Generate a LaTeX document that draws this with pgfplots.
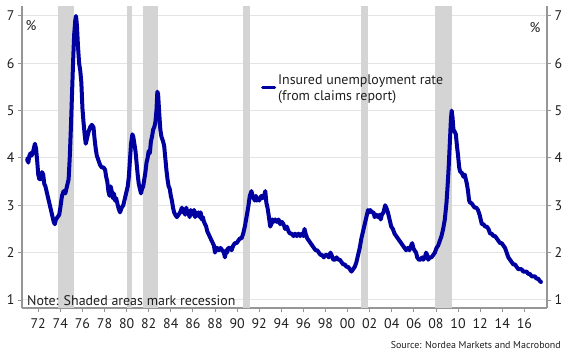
\documentclass[border=0pt]{standalone}
\usepackage{fontspec}
\setmainfont{PT Sans}
\usepackage{pgfplots}
\usepackage{pgfplotstable}
\pgfplotsset{compat=1.18}
\definecolor{lineblue}{RGB}{0,0,160}
\definecolor{recgray}{RGB}{212,212,212}
\definecolor{gridgray}{RGB}{228,228,228}
\definecolor{axisgray}{RGB}{150,150,150}
\definecolor{txt}{RGB}{30,30,30}

\pgfplotstableread{
year val
1971.00 3.95
1971.05 4.00
1971.10 3.90
1971.20 4.05
1971.30 4.10
1971.40 4.05
1971.50 4.10
1971.60 4.20
1971.70 4.30
1971.80 4.20
1971.90 3.95
1972.00 3.65
1972.10 3.55
1972.25 3.55
1972.35 3.70
1972.45 3.65
1972.55 3.45
1972.65 3.40
1972.80 3.25
1972.95 3.10
1973.10 2.95
1973.25 2.80
1973.40 2.65
1973.50 2.60
1973.60 2.70
1973.75 2.75
1973.90 2.80
1974.00 2.95
1974.15 3.20
1974.30 3.30
1974.45 3.25
1974.60 3.40
1974.75 3.55
1974.85 4.00
1974.95 4.60
1975.05 5.30
1975.15 6.00
1975.25 6.60
1975.35 6.90
1975.42 7.00
1975.50 6.80
1975.60 6.35
1975.70 6.00
1975.80 5.85
1975.90 5.60
1976.00 5.05
1976.10 4.75
1976.20 4.50
1976.30 4.30
1976.40 4.40
1976.55 4.55
1976.70 4.65
1976.85 4.70
1977.00 4.65
1977.10 4.40
1977.20 4.20
1977.30 4.05
1977.45 3.95
1977.60 3.85
1977.75 3.80
1977.90 3.80
1978.05 3.75
1978.15 3.60
1978.25 3.50
1978.35 3.30
1978.45 3.20
1978.55 3.40
1978.65 3.30
1978.75 3.15
1978.85 3.25
1978.95 3.10
1979.05 3.15
1979.15 3.05
1979.25 2.95
1979.40 2.85
1979.55 2.95
1979.70 3.00
1979.85 3.15
1980.00 3.30
1980.10 3.40
1980.20 3.60
1980.30 3.95
1980.40 4.30
1980.52 4.50
1980.60 4.45
1980.70 4.30
1980.80 4.15
1980.90 3.90
1981.00 3.65
1981.10 3.45
1981.20 3.35
1981.30 3.25
1981.40 3.35
1981.50 3.40
1981.60 3.55
1981.70 3.70
1981.80 3.90
1981.90 4.00
1982.00 4.15
1982.10 4.10
1982.20 4.35
1982.30 4.45
1982.40 4.60
1982.50 4.65
1982.60 4.75
1982.70 5.00
1982.78 5.40
1982.85 5.35
1982.95 4.95
1983.05 4.60
1983.15 4.45
1983.30 4.35
1983.40 4.25
1983.50 4.00
1983.60 3.75
1983.70 3.55
1983.80 3.40
1983.90 3.35
1984.00 3.20
1984.10 3.10
1984.20 2.95
1984.30 2.85
1984.40 2.80
1984.55 2.75
1984.70 2.80
1984.85 2.85
1985.00 2.95
1985.10 2.85
1985.20 2.90
1985.30 2.80
1985.40 2.95
1985.50 2.85
1985.60 2.85
1985.70 2.75
1985.80 2.90
1985.90 2.80
1986.00 2.85
1986.10 2.90
1986.20 2.75
1986.30 2.85
1986.40 2.80
1986.50 2.85
1986.60 2.75
1986.70 2.85
1986.80 2.70
1986.90 2.75
1987.00 2.65
1987.10 2.60
1987.20 2.55
1987.30 2.45
1987.40 2.40
1987.50 2.35
1987.60 2.30
1987.70 2.25
1987.80 2.20
1987.90 2.15
1988.00 2.00
1988.10 2.10
1988.20 2.10
1988.35 2.05
1988.50 2.10
1988.65 2.05
1988.80 2.00
1988.90 1.90
1989.00 2.05
1989.10 2.00
1989.20 2.10
1989.35 2.10
1989.50 2.05
1989.65 2.15
1989.80 2.20
1989.95 2.20
1990.10 2.25
1990.25 2.30
1990.40 2.30
1990.55 2.40
1990.70 2.55
1990.85 2.75
1991.00 2.95
1991.15 3.20
1991.30 3.30
1991.40 3.20
1991.50 3.15
1991.60 3.10
1991.70 3.20
1991.80 3.10
1991.90 3.15
1992.00 3.10
1992.10 3.15
1992.20 3.20
1992.30 3.15
1992.45 3.20
1992.55 3.30
1992.65 3.05
1992.75 2.95
1992.85 2.80
1993.00 2.55
1993.10 2.60
1993.20 2.70
1993.30 2.65
1993.45 2.70
1993.60 2.65
1993.75 2.70
1993.90 2.60
1994.05 2.65
1994.20 2.60
1994.35 2.50
1994.50 2.55
1994.65 2.45
1994.80 2.40
1994.95 2.40
1995.10 2.35
1995.25 2.40
1995.40 2.35
1995.55 2.40
1995.70 2.35
1995.85 2.40
1996.00 2.35
1996.10 2.50
1996.20 2.40
1996.35 2.30
1996.50 2.25
1996.65 2.20
1996.80 2.15
1996.95 2.10
1997.10 2.05
1997.25 2.05
1997.40 2.00
1997.55 1.95
1997.70 1.95
1997.85 1.90
1998.00 1.95
1998.15 1.95
1998.30 1.90
1998.45 2.00
1998.55 1.95
1998.70 1.85
1998.85 1.85
1999.00 1.90
1999.15 1.85
1999.30 1.85
1999.45 1.80
1999.60 1.75
1999.75 1.75
1999.90 1.70
2000.05 1.70
2000.20 1.65
2000.35 1.60
2000.50 1.65
2000.65 1.70
2000.80 1.80
2000.95 1.95
2001.10 2.10
2001.25 2.30
2001.40 2.45
2001.55 2.60
2001.70 2.75
2001.85 2.90
2001.95 2.85
2002.05 2.90
2002.20 2.85
2002.35 2.85
2002.45 2.75
2002.60 2.80
2002.75 2.75
2002.90 2.80
2003.00 2.70
2003.10 2.80
2003.25 2.85
2003.40 3.00
2003.50 2.95
2003.65 2.85
2003.80 2.70
2003.95 2.55
2004.10 2.50
2004.25 2.40
2004.40 2.35
2004.55 2.30
2004.70 2.25
2004.85 2.20
2005.00 2.15
2005.15 2.10
2005.30 2.05
2005.45 2.10
2005.60 2.05
2005.75 2.15
2005.85 2.20
2005.95 2.10
2006.05 2.05
2006.20 2.00
2006.30 1.90
2006.45 1.85
2006.60 1.85
2006.75 1.90
2006.85 1.85
2007.00 1.90
2007.10 2.00
2007.20 1.95
2007.30 1.85
2007.45 1.90
2007.60 1.90
2007.75 1.95
2007.90 2.00
2008.05 2.10
2008.20 2.15
2008.35 2.25
2008.50 2.35
2008.65 2.50
2008.80 2.70
2008.95 3.05
2009.05 3.40
2009.15 3.80
2009.25 4.30
2009.35 4.80
2009.42 5.00
2009.50 4.85
2009.58 4.60
2009.70 4.55
2009.80 4.50
2009.90 4.25
2010.00 4.05
2010.10 3.80
2010.20 3.70
2010.30 3.70
2010.40 3.65
2010.50 3.60
2010.60 3.65
2010.70 3.55
2010.80 3.45
2010.90 3.30
2011.00 3.10
2011.10 3.05
2011.20 3.05
2011.35 3.00
2011.50 2.95
2011.65 2.95
2011.80 2.90
2011.95 2.80
2012.05 2.70
2012.15 2.60
2012.30 2.60
2012.45 2.55
2012.60 2.55
2012.75 2.50
2012.90 2.40
2013.05 2.40
2013.20 2.35
2013.35 2.35
2013.50 2.30
2013.65 2.25
2013.80 2.20
2013.95 2.20
2014.10 2.15
2014.25 2.10
2014.40 2.00
2014.55 1.90
2014.70 1.85
2014.85 1.80
2015.00 1.75
2015.15 1.75
2015.30 1.70
2015.45 1.65
2015.60 1.65
2015.75 1.65
2015.90 1.60
2016.05 1.60
2016.20 1.60
2016.35 1.55
2016.50 1.55
2016.65 1.50
2016.80 1.50
2016.95 1.50
2017.10 1.45
2017.25 1.45
2017.40 1.40
2017.50 1.38
}\datatable

\begin{document}
\begin{tikzpicture}
\path[use as bounding box] (-22bp,-52bp) rectangle (548bp,308bp);
\begin{axis}[
  name=main,
  at={(0,0)}, anchor=south west,
  scale only axis, width=525bp, height=302bp,
  xmin=1970.53, xmax=2018.05, ymin=0.83, ymax=7.21,
  axis x line*=bottom, axis y line*=left,
  axis line style={axisgray, line width=1.2bp},
  xtick={1972,1974,...,2016},
  xticklabels={72,74,76,78,80,82,84,86,88,90,92,94,96,98,00,02,04,06,08,10,12,14,16},
  ytick={1,...,7},
  ymajorgrids, major grid style={gridgray, line width=1bp},
  tick style={axisgray, line width=0.9bp},
  tick align=outside, major tick length=4bp,
  tick label style={font=\fontsize{14}{16}\selectfont, text=txt},
  /pgf/number format/assume math mode=true,
  xticklabel style={yshift=-3bp},
  legend style={draw=none, fill=none, at={(rel axis cs:0.4495,0.7285)}, anchor=west,
    font=\fontsize{14}{16}\selectfont, text=txt, cells={align=left}},
  legend cell align=left,
  legend image code/.code={\draw[lineblue, line width=3bp] (0bp,0bp) -- (12bp,0bp);},
]
\addplot[draw=none, fill=recgray, forget plot] coordinates {(1973.83,0.83) (1975.21,0.83) (1975.21,7.21) (1973.83,7.21)} -- cycle;
\addplot[draw=none, fill=recgray, forget plot] coordinates {(1980.0,0.83) (1980.5,0.83) (1980.5,7.21) (1980.0,7.21)} -- cycle;
\addplot[draw=none, fill=recgray, forget plot] coordinates {(1981.5,0.83) (1982.88,0.83) (1982.88,7.21) (1981.5,7.21)} -- cycle;
\addplot[draw=none, fill=recgray, forget plot] coordinates {(1990.5,0.83) (1991.2,0.83) (1991.2,7.21) (1990.5,7.21)} -- cycle;
\addplot[draw=none, fill=recgray, forget plot] coordinates {(2001.17,0.83) (2001.88,0.83) (2001.88,7.21) (2001.17,7.21)} -- cycle;
\addplot[draw=none, fill=recgray, forget plot] coordinates {(2007.92,0.83) (2009.46,0.83) (2009.46,7.21) (2007.92,7.21)} -- cycle;
\addplot[lineblue, line width=4bp, line join=round, line cap=round] table[x=year, y=val] {\datatable};
\addlegendentry{Insured unemployment rate\\(from claims report)}
\node[anchor=center, font=\fontsize{14}{16}\selectfont, text=txt] at (rel axis cs:0.0171,0.935) {\%};
\node[anchor=center, font=\fontsize{14}{16}\selectfont, text=txt] at (rel axis cs:0.977,0.930) {\%};
\node[anchor=base west, inner sep=0pt, font=\fontsize{14}{16}\selectfont, text=txt] at (rel axis cs:0.0095,0.0075) {Note: Shaded areas mark recession};
\end{axis}
\begin{axis}[
  at={(0,0)}, anchor=south west,
  scale only axis, width=525bp, height=302bp,
  xmin=1970.53, xmax=2018.05, ymin=0.83, ymax=7.21,
  axis y line*=right, hide x axis,
  axis line style={axisgray, line width=1.2bp},
  ytick={1,...,7},
  tick style={axisgray, line width=0.9bp},
  tick align=outside, major tick length=4bp,
  tick label style={font=\fontsize{14}{16}\selectfont, text=txt},
  /pgf/number format/assume math mode=true,
]
\end{axis}
\node[anchor=east, inner sep=0pt, font=\fontsize{10}{12}\selectfont, text=txt] at ([xshift=14bp, yshift=-37bp]main.south east) {Source: Nordea Markets and Macrobond};
\end{tikzpicture}
\end{document}
